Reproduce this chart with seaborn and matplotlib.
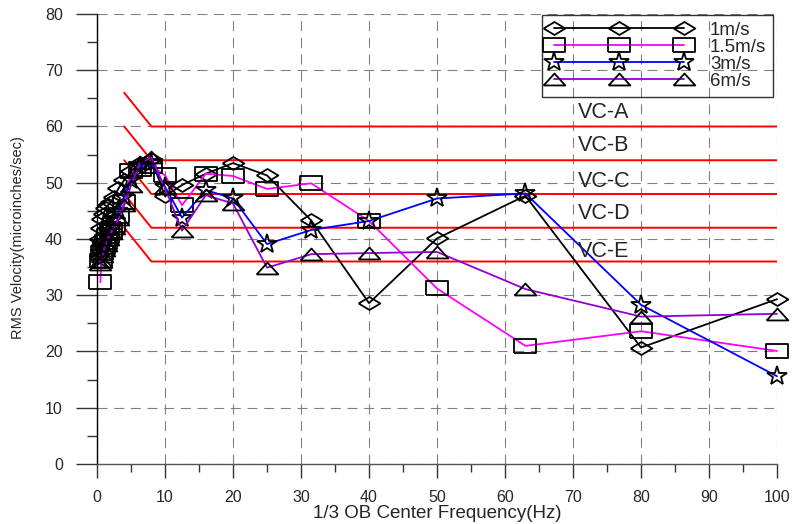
import matplotlib
matplotlib.use("Agg")
import matplotlib.pyplot as plt
from matplotlib.ticker import MultipleLocator
from matplotlib.lines import Line2D
import seaborn as sns
import pandas as pd

# 1/3 octave band centre frequencies (Hz)
freq = [0.5, 0.63, 0.8, 1, 1.25, 1.6, 2, 2.5, 3.15, 4, 5, 6.3, 8,
        10, 12.5, 16, 20, 25, 31.5, 40, 50, 63, 80, 100]

# RMS velocity (micro-inches/sec) for each wind speed
v_1ms = [40, 42, 43.5, 44.5, 45.5, 46, 46.5, 47.5, 49, 50.5, 52, 53.5, 54.2,
         47.6, 49.6, 51.6, 53.5, 51.3, 43.3, 28.6, 40.1, 47.7, 20.7, 29.3]
v_15ms = [32.3, 36, 37.5, 38.5, 39.5, 40.5, 41.5, 42.5, 44, 46.6, 52, 52.5, 53,
          51.3, 46.0, 51.6, 51.2, 48.9, 49.9, 43.2, 31.2, 21.0, 23.6, 20.1]
v_3ms = [36.5, 37.5, 38.5, 39.5, 40.5, 41.5, 42.5, 43.5, 45, 47.5, 50.5, 53, 53.5,
         49.3, 43.8, 48.7, 47.2, 39.1, 41.6, 43.2, 47.2, 48.1, 28.3, 15.6]
v_6ms = [35.5, 36, 37, 38, 39, 40, 41, 42, 43.5, 46, 49.5, 53.5, 54.5,
         49.0, 41.5, 47.8, 46.3, 34.9, 37.3, 37.5, 37.7, 31.1, 26.2, 26.7]

series_labels = ["1m/s", "1.5m/s", "3m/s", "6m/s"]
series_colors = ["black", "#ff00ff", "#0000ff", "#9400d3"]

# vibration criterion curves: sloped segment 4-8 Hz then flat to 100 Hz
vc_names = ["VC-A", "VC-B", "VC-C", "VC-D", "VC-E"]
vc_freq = [4, 8, 100]
vc_start = [66, 60, 54, 48, 42]
vc_level = [60, 54, 48, 42, 36]
vc_label_y = [62.4, 56.7, 50.3, 44.6, 37.7]

# marker shapes (wide diamond, flat box, star, flat triangle)
m_diamond = [(-1, 0), (0, 0.6), (1, 0), (0, -0.6), (-1, 0)]
m_box = [(-1, -0.65), (1, -0.65), (1, 0.65), (-1, 0.65), (-1, -0.65)]
m_tri = [(-1, -0.55), (1, -0.55), (0, 0.55), (-1, -0.55)]
series_markers = [m_diamond, m_box, "*", m_tri]
series_msize = [15.6, 15.6, 14.5, 15.6]

sns.set_style("white")
plt.rcParams["font.family"] = ["Liberation Sans", "DejaVu Sans"]

fig = plt.figure(figsize=(7.94, 5.24), dpi=100)
ax = fig.add_axes([0.1222, 0.1145, 0.8564, 0.8588])

grid_kw = dict(color="#808080", lw=0.8, linestyle=(0, (9, 6)), zorder=0)
ax.grid(True, which="major", **grid_kw)
ax.set_axisbelow(True)

# criterion curves
for name, s, lvl, ty in zip(vc_names, vc_start, vc_level, vc_label_y):
    vc_df = pd.DataFrame({"f": vc_freq, "v": [s, lvl, lvl]})
    sns.lineplot(data=vc_df, x="f", y="v", ax=ax, color="#ff0000", lw=1.4,
                 sort=False, estimator=None, zorder=2)
    ax.text(70.7, ty, name, fontsize=15.5, ha="left", va="center", zorder=4)

handles = []
for vals, lab, col, mk, ms in zip([v_1ms, v_15ms, v_3ms, v_6ms], series_labels,
                                  series_colors, series_markers, series_msize):
    df = pd.DataFrame({"f": freq, "v": vals})
    sns.lineplot(data=df, x="f", y="v", ax=ax, color=col, lw=1.3,
                 marker=mk, markersize=ms, markerfacecolor="none",
                 markeredgecolor="black", markeredgewidth=1.3,
                 estimator=None, clip_on=False, zorder=3)
    handles.append(Line2D([], [], color=col, lw=1.3, marker=mk, markersize=ms,
                          markerfacecolor="none", markeredgecolor="black",
                          markeredgewidth=1.3, label=lab))

ax.set_xlim(0, 100)
ax.set_ylim(0, 80)
ax.xaxis.set_major_locator(MultipleLocator(10))
ax.xaxis.set_minor_locator(MultipleLocator(5))
ax.yaxis.set_major_locator(MultipleLocator(10))
ax.yaxis.set_minor_locator(MultipleLocator(5))

for side in ["top", "right"]:
    ax.spines[side].set_visible(False)
ax.spines["left"].set_color("black")
ax.spines["left"].set_linewidth(1.0)
ax.spines["bottom"].set_color("#555555")
ax.spines["bottom"].set_linewidth(1.0)

ax.tick_params(axis="y", which="major", direction="out", length=15, width=1,
               color="#333333", pad=9.5, labelsize=11.5, left=True)
ax.tick_params(axis="y", which="minor", direction="out", length=7.2, width=1,
               color="#333333", left=True)
ax.tick_params(axis="x", which="major", direction="out", length=10, width=1,
               color="#333333", pad=9, labelsize=11.5, bottom=True)
ax.tick_params(axis="x", which="minor", direction="out", length=5.8, width=1,
               color="#333333", bottom=True)

ax.set_xlabel("1/3 OB Center Frequency(Hz)", fontsize=13.5, labelpad=0)
ax.set_ylabel("RMS Velocity(microinches/sec)", fontsize=10.5)
ax.yaxis.set_label_coords(-0.106, 0.503)

leg = ax.legend(handles=handles, loc="upper right", bbox_to_anchor=(0.994, 0.998),
                borderaxespad=0, numpoints=3, handlelength=7.5, handletextpad=1.1,
                borderpad=0.35, labelspacing=0.0, fontsize=13.5, frameon=True,
                fancybox=False, edgecolor="black", facecolor="none")
leg.get_frame().set_linewidth(1.0)
leg.set_zorder(5)

fig.savefig("out.png", dpi=100)
